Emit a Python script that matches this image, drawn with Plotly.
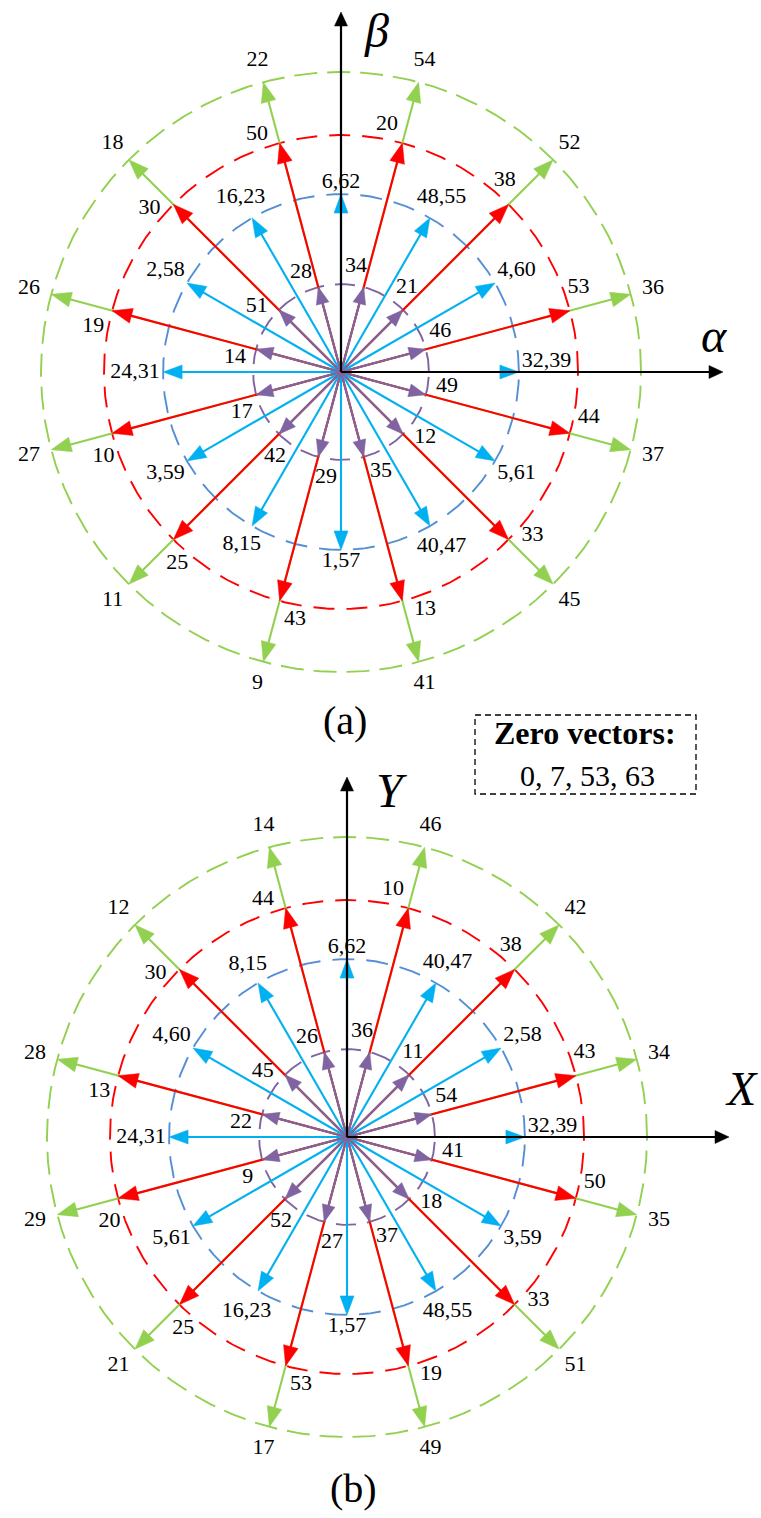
import numpy as np
import plotly.graph_objects as go

# ---------------- data ----------------
ANGLES_ODD = [15, 45, 75, 105, 135, 165, 195, 225, 255, 285, 315, 345]
ANGLES_EVEN = [0, 30, 60, 90, 120, 150, 180, 210, 240, 270, 300, 330]

MAG_LARGE = 1.0
MAG_MEDLARGE = 0.79
MAG_MEDIUM = 0.593
MAG_SMALL = 0.293

A_LARGE = ["36", "52", "54", "22", "18", "26", "27", "11", "9", "41", "45", "37"]
A_MEDLARGE = ["53", "38", "20", "50", "30", "19", "10", "25", "43", "13", "33", "44"]
A_MEDIUM = ["32,39", "4,60", "48,55", "6,62", "16,23", "2,58", "24,31", "3,59",
            "8,15", "1,57", "40,47", "5,61"]
A_SMALL = ["46", "21", "34", "28", "51", "14", "17", "42", "29", "35", "12", "49"]

B_LARGE = ["34", "42", "46", "14", "12", "28", "29", "21", "17", "49", "51", "35"]
B_MEDLARGE = ["43", "38", "10", "44", "30", "13", "20", "25", "53", "19", "33", "50"]
B_MEDIUM = ["32,39", "2,58", "40,47", "6,62", "8,15", "4,60", "24,31", "5,61",
            "16,23", "1,57", "48,55", "3,59"]
B_SMALL = ["54", "11", "36", "26", "45", "22", "9", "52", "27", "37", "18", "41"]

ZERO_VECTORS = ["0", "7", "53", "63"]
AXIS_NAMES_A = ("α", "β")
AXIS_NAMES_B = ("X", "Y")
PANEL_NAMES = ("(a)", "(b)")

# ---------------- layout constants ----------------
W, H = 761, 1518
S = 300.0  # px per unit magnitude
CENTERS = [(341.0, 372.0), (347.0, 1137.0)]
FONT = "Liberation Serif"

GREEN = "#92D050"
RED = "#FF0000"
CYAN = "#00B0F0"
PURPLE = "#8064A2"
CIRC_BLUE = "#558ED5"

fig = go.Figure()


def add_circle(c, r, color, dash):
    t = np.linspace(0, 2 * np.pi, 721)
    fig.add_trace(go.Scatter(x=c[0] + r * S * np.cos(t), y=c[1] - r * S * np.sin(t),
                             mode="lines", line=dict(color=color, width=1.9, dash=dash),
                             hoverinfo="skip"))


def add_vectors(c, angles, mag, color, L, Wd, lw=2.1, axis_len=None):
    lx, ly, hx, hy = [], [], [], []
    for ang in angles:
        a = np.deg2rad(ang)
        ux, uy = np.cos(a), -np.sin(a)
        r = mag * S if axis_len is None else axis_len
        tx, ty = c[0] + r * ux, c[1] + r * uy
        bx, by = tx - L * ux, ty - L * uy
        nx, ny = -uy, ux
        lx += [c[0], bx + 0.8 * ux, None]
        ly += [c[1], by + 0.8 * uy, None]
        hx += [tx, bx + Wd / 2 * nx, bx - Wd / 2 * nx, tx, None]
        hy += [ty, by + Wd / 2 * ny, by - Wd / 2 * ny, ty, None]
    fig.add_trace(go.Scatter(x=lx, y=ly, mode="lines", line=dict(color=color, width=lw),
                             hoverinfo="skip"))
    fig.add_trace(go.Scatter(x=hx, y=hy, mode="lines", fill="toself", fillcolor=color,
                             line=dict(color=color, width=0.5), hoverinfo="skip"))


def add_labels(c, angles, labels, kind):
    xs, ys = [], []
    for ang, lab in zip(angles, labels):
        a = np.deg2rad(ang)
        if kind == "large":
            r, d = 323, 0.0
        elif kind == "medlarge":
            r, d = 252, 4.5
        elif kind == "small":
            r, d = 107, 7.0
        else:
            hw = len(lab) * 5.0
            r = MAG_MEDIUM * S + 3 + hw * abs(np.cos(a)) + 9 * abs(np.sin(a))
            d = 3.0 if ang == 0 else 0.0
        aa = np.deg2rad(ang + d)
        xs.append(c[0] + r * np.cos(aa))
        ys.append(c[1] - r * np.sin(aa))
    fig.add_trace(go.Scatter(x=xs, y=ys, mode="text", text=labels,
                             textposition="middle center",
                             textfont=dict(family=FONT, size=22, color="black"),
                             hoverinfo="skip"))


panels = [
    (A_LARGE, A_MEDLARGE, A_MEDIUM, A_SMALL),
    (B_LARGE, B_MEDLARGE, B_MEDIUM, B_SMALL),
]

for c, (lg, ml, md, sm) in zip(CENTERS, panels):
    add_circle(c, MAG_LARGE, GREEN, "23px,10px")
    add_circle(c, MAG_MEDLARGE, RED, "21px,12px")
    add_circle(c, MAG_MEDIUM, CIRC_BLUE, "22px,12px")
    add_circle(c, MAG_SMALL, PURPLE, "20px,11px")
    add_vectors(c, ANGLES_ODD, MAG_LARGE, GREEN, 20, 15)
    add_vectors(c, ANGLES_ODD, MAG_MEDLARGE, RED, 20, 15)
    add_vectors(c, ANGLES_EVEN, MAG_MEDIUM, CYAN, 19, 14)
    add_vectors(c, ANGLES_ODD, MAG_SMALL, PURPLE, 17, 13)
    # axes
    add_vectors(c, [0], None, "black", 14, 13, lw=2.2, axis_len=382)
    add_vectors(c, [90], None, "black", 14, 13, lw=2.2, axis_len=360)
    add_labels(c, ANGLES_ODD, lg, "large")
    add_labels(c, ANGLES_ODD, ml, "medlarge")
    add_labels(c, ANGLES_EVEN, md, "medium")
    add_labels(c, ANGLES_ODD, sm, "small")

ann = []
ann.append(dict(x=714, y=335, text="<i>%s</i>" % AXIS_NAMES_A[0]))
ann.append(dict(x=376, y=30, text="<i>%s</i>" % AXIS_NAMES_A[1]))
ann.append(dict(x=741, y=1088, text="<i>%s</i>" % AXIS_NAMES_B[0]))
ann.append(dict(x=391, y=790, text="<i>%s</i>" % AXIS_NAMES_B[1]))
for a in ann:
    a.update(font=dict(family=FONT, size=48, color="black"))
ann.append(dict(x=345, y=720, text=PANEL_NAMES[0], font=dict(family=FONT, size=40, color="black")))
ann.append(dict(x=353, y=1488, text=PANEL_NAMES[1], font=dict(family=FONT, size=40, color="black")))
ann.append(dict(x=585, y=733, text="<b>Zero vectors:</b>", font=dict(family=FONT, size=32, color="black")))
ann.append(dict(x=587, y=775, text=", ".join(ZERO_VECTORS), font=dict(family=FONT, size=30, color="black")))
for a in ann:
    a.update(xref="x", yref="y", showarrow=False, xanchor="center", yanchor="middle")

fig.update_layout(
    width=W, height=H, margin=dict(l=0, r=0, t=0, b=0),
    paper_bgcolor="white", plot_bgcolor="white", showlegend=False, hovermode=False,
    xaxis=dict(range=[0, W], visible=False, fixedrange=True),
    yaxis=dict(range=[H, 0], visible=False, fixedrange=True),
    annotations=ann,
    shapes=[dict(type="rect", xref="x", yref="y", x0=475, x1=696, y0=715, y1=794,
                 line=dict(color="black", width=1.3, dash="6px,4px"))],
)

fig.write_html("out.html")
